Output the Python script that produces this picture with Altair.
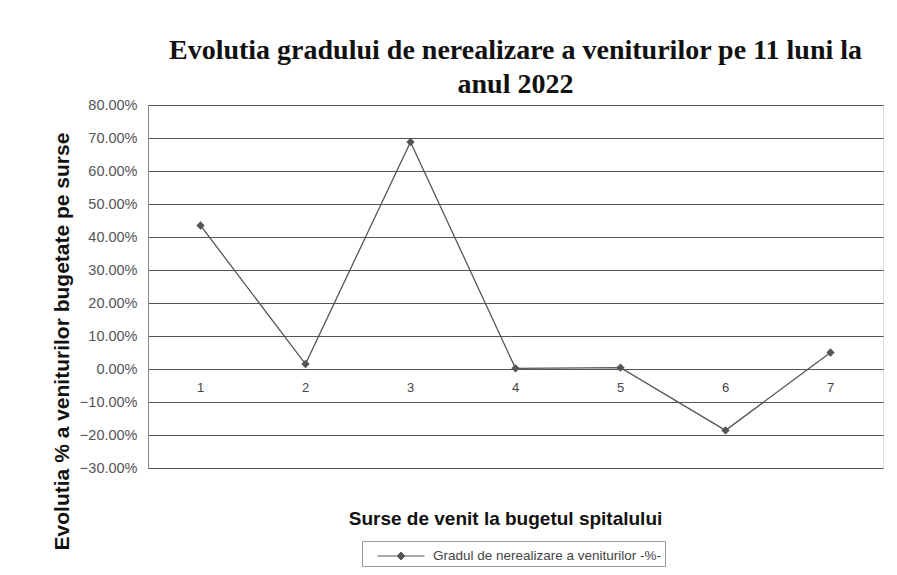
import altair as alt
import pandas as pd

categories = ["1", "2", "3", "4", "5", "6", "7"]
values = [0.435, 0.015, 0.688, 0.002, 0.004, -0.186, 0.050]
series_name = "Gradul de nerealizare a veniturilor -%-"
y_ticks = [-0.3, -0.2, -0.1, 0.0, 0.1, 0.2, 0.3, 0.4, 0.5, 0.6, 0.7, 0.8]

df = pd.DataFrame({"cat": categories, "val": values, "series": [series_name] * len(categories)})

x_enc = alt.X("cat:N", sort=categories,
              scale=alt.Scale(paddingInner=0, paddingOuter=0.5),
              axis=alt.Axis(labels=False, ticks=False, domain=False,
                            title="Surse de venit la bugetul spitalului",
                            titleFont="Liberation Sans", titleFontSize=19, titleFontWeight="bold",
                            titleColor="#111", titlePadding=41, titleX=357))
y_axis = alt.Axis(values=y_ticks, format=".2%", labelFont="Liberation Sans",
                  labelFontSize=14.5, labelColor="#555", labelPadding=11,
                  labelOverlap=False, labelBound=False, labelFlush=False,
                  ticks=False, domain=True, domainColor="#888",
                  grid=True, gridColor="#555", gridWidth=1,
                  title="Evolutia % a veniturilor bugetate pe surse",
                  titleFont="Liberation Sans", titleFontSize=21, titleFontWeight="bold",
                  titleColor="#111", titleAngle=270, titleX=-86, titleY=236,
                  titleAlign="center", titleBaseline="middle")
y_scale = alt.Scale(domain=[-0.3, 0.8], nice=False, zero=False)

color_enc = alt.Color("series:N", scale=alt.Scale(range=["#555555"]),
                      legend=alt.Legend(title=None, orient="none", legendX=214, legendY=436,
                                        labelFont="Liberation Sans", labelFontSize=13.5, labelColor="#444",
                                        labelLimit=500, labelOffset=20, symbolOffset=24,
                                        symbolType="M-2.1,0L-0.35,0M0.35,0L2.1,0M0,-0.35L0.35,0L0,0.35L-0.35,0Z",
                                        symbolSize=500, symbolStrokeWidth=1, symbolFillColor="#555",
                                        strokeColor="#999", padding=3, fillColor="white"))

base = alt.Chart(df).transform_calculate(zero="0")

line = base.mark_line(strokeWidth=1.3).encode(
    x=x_enc, y=alt.Y("val:Q", scale=y_scale, axis=y_axis), color=color_enc)
points = base.mark_point(shape="diamond", filled=True, size=70, opacity=1).encode(
    x=x_enc, y=alt.Y("val:Q", scale=y_scale, axis=y_axis), color=color_enc)
labels = base.mark_text(dy=19, font="Liberation Sans", fontSize=13, color="#444").encode(
    x=x_enc, y=alt.Y("zero:Q", scale=y_scale, axis=y_axis), text="cat:N")

chart = alt.layer(line, points, labels).properties(
    width=735, height=363,
    padding={"left": 140, "top": 97, "right": 6, "bottom": 99},
    autosize=alt.AutoSizeParams(type="none"),
    title=alt.Title(["Evolutia gradului de nerealizare a veniturilor pe 11 luni la", "anul 2022"],
                    font="Liberation Serif", fontSize=28, fontWeight="bold", color="#111",
                    anchor="middle", offset=-2, lineHeight=34),
).configure_view(fill="#eeeeee", stroke="#888", strokeWidth=1).configure(background="white")

chart.save("out.html", embed_options={"renderer": "svg", "actions": False})
